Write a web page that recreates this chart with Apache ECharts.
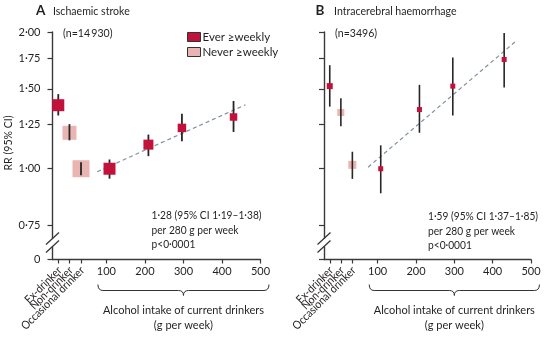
<!DOCTYPE html>
<html>
<head>
<meta charset="utf-8">
<script src="https://cdn.jsdelivr.net/npm/echarts@6/dist/echarts.min.js"></script>
<style>
  html, body { margin: 0; padding: 0; background: #fff; }
  #chart { width: 550px; height: 337px; }
</style>
</head>
<body>
<div id="chart"></div>
<script>
// Drinking categories and intake groups (g alcohol per week)
const categoryNames = ['Ex-drinker', 'Non-drinker', 'Occasional drinker'];
const categoryEverWeekly = [true, false, false];
const intakeGroups = [108, 209, 296, 430];
const intakeTicks = [100, 200, 300, 400, 500];
const rrTicks = [0.75, 1.00, 1.25, 1.50, 1.75, 2.00];

// Ischaemic stroke: relative risks with 95% CI
const isCatRR = [1.38, 1.20, 1.00];
const isCatLo = [1.31, 1.155, 0.967];
const isCatHi = [1.46, 1.254, 1.034];
const isIntakeRR = [1.00, 1.13, 1.23, 1.30];
const isIntakeLo = [0.951, 1.066, 1.149, 1.205];
const isIntakeHi = [1.048, 1.189, 1.321, 1.41];

// Intracerebral haemorrhage: relative risks with 95% CI
const ichCatRR = [1.52, 1.33, 1.02];
const ichCatLo = [1.37, 1.24, 0.95];
const ichCatHi = [1.69, 1.43, 1.09];
const ichIntakeRR = [1.00, 1.35, 1.52, 1.74];
const ichIntakeLo = [0.883, 1.20, 1.31, 1.51];
const ichIntakeHi = [1.126, 1.53, 1.757, 1.99];

// Trend per 280 g/week, fitted line span and its value at the start
const isTrend = { rr: 1.28, lo: 1.19, hi: 1.38, per: 280, from: 76, to: 461, startRR: 0.985 };
const ichTrend = { rr: 1.59, lo: 1.37, hi: 1.85, per: 280, from: 75, to: 458, startRR: 1.008 };

// ---- layout / style ----
const FONT = 'Lato, "Liberation Sans", sans-serif';
const INK = '#231f20';
const RED = '#c2123b';
const PINK = '#e9b4b2';
const AXIS = '#3a3a3a';
const NARROW = 0.88;                      // horizontal squeeze for annotation text
const catSlots = [-25, 4, 34];            // where the three drinking categories sit on the x scale
const X_MIN = -40, X_MAX = 500;
const Y_MIN = -0.46, Y_MAX = Math.log(2);
const isCatSize = [12, 14, 17];
const isIntakeSize = [12, 10, 8.5, 7.5];
const ichCatSize = [6, 7, 8];
const ichIntakeSize = [5, 5, 5, 5];

const fmt = v => v.toFixed(2).replace('.', '\u00b7');
const yTickVals = [Y_MIN].concat(rrTicks.map(Math.log));
const yTickText = ['0'].concat(rrTicks.map(fmt));
function yLabel(v) {
  for (let i = 0; i < yTickVals.length; i++) if (Math.abs(v - yTickVals[i]) < 1e-6) return yTickText[i];
  return '';
}

const grids = [
  { left: 52.5, top: 32, width: 208, height: 227.5 },
  { left: 324, top: 32, width: 207, height: 227.5 }
];

function xAxisFor(g) {
  return {
    type: 'value', gridIndex: g, position: 'bottom', min: X_MIN, max: X_MAX,
    axisLine: { show: true, onZero: false, lineStyle: { color: AXIS, width: 1.4 } },
    axisTick: { show: true, length: 4, lineStyle: { color: AXIS, width: 1.2 },
                customValues: catSlots.concat(intakeTicks) },
    axisLabel: { customValues: intakeTicks, margin: 6, hideOverlap: false,
                 fontFamily: FONT, fontSize: 11, color: INK },
    splitLine: { show: false }
  };
}
function yAxisFor(g, showLabels) {
  return {
    type: 'value', gridIndex: g, min: Y_MIN, max: Y_MAX,
    axisLine: { show: true, onZero: false, lineStyle: { color: AXIS, width: 1.4 } },
    axisTick: { show: true, length: 5, lineStyle: { color: AXIS, width: 1.2 }, customValues: yTickVals },
    axisLabel: { show: showLabels, customValues: yTickVals, formatter: yLabel, margin: 12,
                 hideOverlap: false, fontFamily: FONT, fontSize: 11, color: INK },
    splitLine: { show: false }
  };
}

function panelSeries(g, catRR, catLo, catHi, inRR, inLo, inHi, catSize, inSize, trend, ciWidth) {
  const pink = [], red = [], ci = [];
  catRR.forEach((r, i) => {
    const item = { value: [catSlots[i], Math.log(r)], symbolSize: catSize[i] };
    (categoryEverWeekly[i] ? red : pink).push(item);
    ci.push([catSlots[i], Math.log(catLo[i]), Math.log(catHi[i])]);
  });
  inRR.forEach((r, i) => {
    red.push({ value: [intakeGroups[i], Math.log(r)], symbolSize: inSize[i] });
    ci.push([intakeGroups[i], Math.log(inLo[i]), Math.log(inHi[i])]);
  });
  const slope = Math.log(trend.rr) / trend.per;
  const y0 = Math.log(trend.startRR);
  const trendLine = [[trend.from, y0], [trend.to, y0 + slope * (trend.to - trend.from)]];
  return [
    { type: 'line', name: 'trend' + g, xAxisIndex: g, yAxisIndex: g, data: trendLine, z: 1,
      symbol: 'none', silent: true,
      lineStyle: { color: '#8093a0', width: 1.2, type: [4, 3] } },
    { type: 'scatter', name: 'Never \u2265weekly', xAxisIndex: g, yAxisIndex: g, data: pink, z: 2,
      symbol: 'rect', itemStyle: { color: PINK, opacity: 1 } },
    { type: 'custom', name: 'ci' + g, xAxisIndex: g, yAxisIndex: g, data: ci, z: 3,
      encode: { x: 0, y: [1, 2] },
      renderItem: function (params, api) {
        const a = api.coord([api.value(0), api.value(1)]);
        const b = api.coord([api.value(0), api.value(2)]);
        return { type: 'line', shape: { x1: a[0], y1: a[1], x2: b[0], y2: b[1] },
                 style: { stroke: '#262626', lineWidth: ciWidth } };
      } },
    { type: 'scatter', name: 'Ever \u2265weekly', xAxisIndex: g, yAxisIndex: g, data: red, z: 4,
      symbol: 'rect', itemStyle: { color: RED, opacity: 1 } }
  ];
}

const chart = echarts.init(document.getElementById('chart'), null, { renderer: 'canvas' });
chart.setOption({
  animation: false,
  backgroundColor: '#ffffff',
  grid: grids,
  xAxis: [xAxisFor(0), xAxisFor(1)],
  yAxis: [yAxisFor(0, true), yAxisFor(1, false)],
  legend: {
    data: ['Ever \u2265weekly', 'Never \u2265weekly'],
    orient: 'vertical', left: 182, top: 26, itemGap: 3,
    icon: 'rect', itemWidth: 13, itemHeight: 9,
    itemStyle: { borderColor: '#333', borderWidth: 1 },
    textStyle: { fontFamily: FONT, fontSize: 11.5, color: INK, padding: [0, 0, 0, -3] },
    selectedMode: false
  },
  series: panelSeries(0, isCatRR, isCatLo, isCatHi, isIntakeRR, isIntakeLo, isIntakeHi,
                      isCatSize, isIntakeSize, isTrend, 1.8)
    .concat(panelSeries(1, ichCatRR, ichCatLo, ichCatHi, ichIntakeRR, ichIntakeLo, ichIntakeHi,
                        ichCatSize, ichIntakeSize, ichTrend, 1.6))
});

// ---- annotations: titles, stats, category labels, braces, axis breaks ----
const txt = (x, y, text, extra, sx) => ({
  type: 'text', x: x, y: y, scaleX: sx || NARROW, silent: true,
  style: Object.assign({ text: text, fill: INK, font: '12px ' + FONT, textAlign: 'left', textVerticalAlign: 'middle' },
                       extra || {})
});
const statLines = t => [
  fmt(t.rr) + ' (95% CI ' + fmt(t.lo) + '\u2013' + fmt(t.hi) + ')',
  'per ' + t.per + ' g per week',
  'p<0\u00b70001'
];
const seg = (x1, y1, x2, y2) => ({ type: 'line', silent: true, shape: { x1, y1, x2, y2 },
  style: { stroke: '#333', lineWidth: 1 } });
const curve = (x1, y1, cx, cy, x2, y2) => ({ type: 'bezierCurve', silent: true,
  shape: { x1, y1, x2, y2, cpx1: cx, cpy1: cy }, style: { stroke: '#333', lineWidth: 1, fill: null } });

const graphics = [];
// panel headings
graphics.push(txt(36, 11, 'A', { font: 'bold 13.5px ' + FONT }, 1));
graphics.push(txt(53, 11, 'Ischaemic stroke'));
graphics.push(txt(63, 33, '(n=14\u2009930)'));
graphics.push(txt(315.5, 11, 'B', { font: 'bold 13.5px ' + FONT }, 1));
graphics.push(txt(334, 11, 'Intracerebral haemorrhage'));
graphics.push(txt(335, 33, '(n=3496)'));
// y axis title
graphics.push({ type: 'text', x: 8, y: 143, rotation: Math.PI / 2, scaleX: NARROW, silent: true,
  style: { text: 'RR (95% CI)', fill: INK, font: '12px ' + FONT, textAlign: 'center', textVerticalAlign: 'middle' } });
// trend statistics
statLines(isTrend).forEach((s, i) => graphics.push(txt(151.5, 215.5 + i * 14.5, s, null, 0.85)));
statLines(ichTrend).forEach((s, i) => graphics.push(txt(428, 216.5 + i * 14.5, s, null, 0.85)));

[0, 1].forEach(g => {
  const px = v => chart.convertToPixel({ xAxisIndex: g }, v);
  const py = v => chart.convertToPixel({ yAxisIndex: g }, v);
  const axisY = py(Y_MIN);
  // slanted category labels under their ticks
  catSlots.forEach((c, i) => graphics.push({
    type: 'text', x: px(c) + 1.5, y: axisY + 9, rotation: Math.PI / 4, scaleX: 0.9, silent: true,
    style: { text: categoryNames[i], fill: INK, font: '11.5px ' + FONT, textAlign: 'right', textVerticalAlign: 'middle' }
  }));
  // brace under the intake range
  const x0 = px(78), x1 = px(522), xc = px(300);
  const yTop = axisY + 25, yMid = yTop + 6, yTip = yTop + 11;
  graphics.push(curve(x0, yTop, x0, yMid, x0 + 5, yMid));
  graphics.push(seg(x0 + 5, yMid, xc - 5, yMid));
  graphics.push(curve(xc - 5, yMid, xc, yMid, xc, yTip));
  graphics.push(curve(xc, yTip, xc, yMid, xc + 5, yMid));
  graphics.push(seg(xc + 5, yMid, x1 - 5, yMid));
  graphics.push(curve(x1 - 5, yMid, x1, yMid, x1, yTop));
  graphics.push(txt(xc, yTop + 26, 'Alcohol intake of current drinkers', { textAlign: 'center' }, 0.92));
  graphics.push(txt(xc, yTop + 40.5, '(g per week)', { textAlign: 'center' }, 0.92));
  // broken y axis between 0 and 0·75
  const ax = px(X_MIN);
  const yc = (py(Math.log(0.75)) + axisY) / 2;
  graphics.push({ type: 'rect', silent: true, z: 100,
    shape: { x: ax - 2, y: yc - 4, width: 4, height: 8 }, style: { fill: '#fff' } });
  [-4, 4].forEach(d => graphics.push({ type: 'line', silent: true, z: 101,
    shape: { x1: ax - 6.5, y1: yc + d + 6, x2: ax + 6.5, y2: yc + d - 6 },
    style: { stroke: '#333', lineWidth: 1.2 } }));
});

chart.setOption({ graphic: graphics });
</script>
</body>
</html>
